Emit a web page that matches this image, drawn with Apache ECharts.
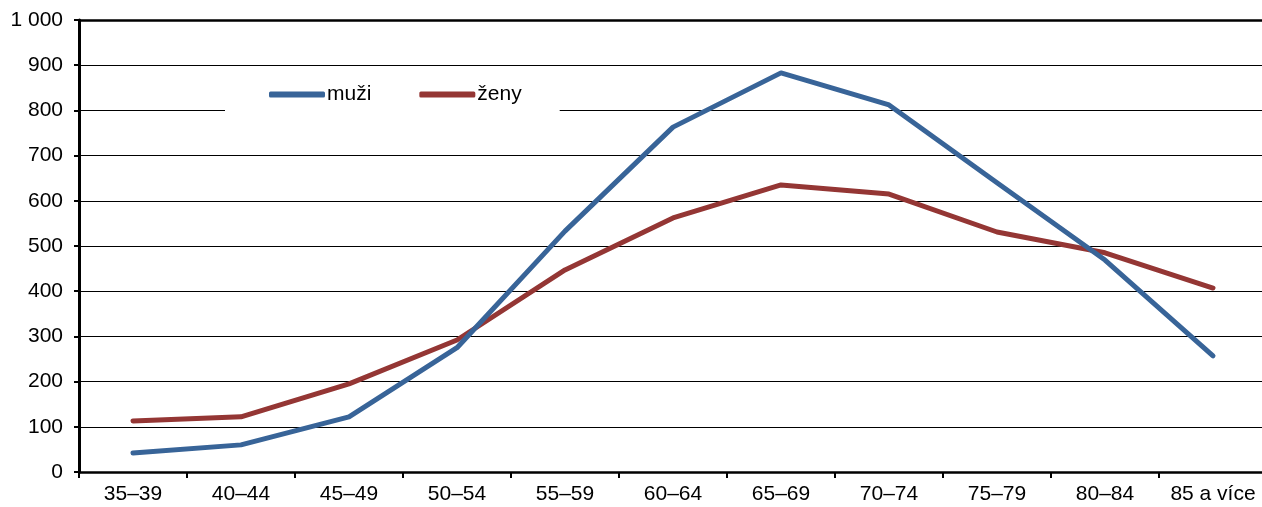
<!DOCTYPE html>
<html>
<head>
<meta charset="utf-8">
<script src="https://cdn.jsdelivr.net/npm/echarts@6/dist/echarts.min.js"></script>
<style>
  html, body { margin: 0; padding: 0; background: #fff; }
  #chart { width: 1262px; height: 507px; }
</style>
</head>
<body>
<div id="chart"></div>
<script>
// věkové skupiny
let categories = ['35–39', '40–44', '45–49', '50–54', '55–59', '60–64', '65–69', '70–74', '75–79', '80–84', '85 a více'];
let muzi = [42, 60, 122, 275, 533, 763, 883, 812, 640, 469, 257];
let zeny = [113, 122, 195, 292, 447, 562, 635, 615, 531, 485, 407];

let font = 'Liberation Sans, Arial, sans-serif';

let option = {
    animation: false,
    backgroundColor: '#fff',
    grid: {
        left: 79,
        width: 1188,
        top: 20,
        bottom: 35,
        outerBoundsMode: 'none'
    },
    legend: {
        left: 225,
        top: 76,
        backgroundColor: '#fff',
        padding: [8, 38, 8, 44],
        itemGap: 48,
        itemWidth: 56,
        itemHeight: 6,
        icon: 'roundRect',
        textStyle: { fontFamily: font, fontSize: 21, color: '#000', padding: [0, 0, 0, -3] },
        data: ['muži', 'ženy']
    },
    xAxis: [{
        type: 'category',
        data: categories,
        axisLine: { lineStyle: { color: '#000', width: 2.5 } },
        axisTick: { show: true, interval: 0, length: 6, lineStyle: { color: '#000', width: 2 } },
        axisLabel: { interval: 0, fontFamily: font, fontSize: 21, color: '#000', margin: 12 }
    }, {
        type: 'category',
        position: 'top',
        data: categories,
        axisLine: { lineStyle: { color: '#000', width: 2.5 } },
        axisTick: { show: false },
        axisLabel: { show: false }
    }],
    yAxis: {
        type: 'value',
        min: 0,
        max: 1000,
        interval: 100,
        axisLine: { show: true, lineStyle: { color: '#000', width: 3 } },
        axisTick: { show: true, length: 5, lineStyle: { color: '#000', width: 2 } },
        splitLine: { lineStyle: { color: '#000', width: 1 } },
        axisLabel: {
            fontFamily: font,
            fontSize: 21,
            color: '#000',
            margin: 16,
            formatter: v => v >= 1000 ? '1 000' : String(v)
        }
    },
    series: [{
        name: 'muži',
        type: 'line',
        data: muzi,
        symbol: 'none',
        color: '#386498',
        lineStyle: { width: 5, cap: 'round', join: 'round' },
        z: 3
    }, {
        name: 'ženy',
        type: 'line',
        data: zeny,
        symbol: 'none',
        color: '#943634',
        lineStyle: { width: 5, cap: 'round', join: 'round' },
        z: 2
    }]
};

let chartDom = document.getElementById('chart');
let myChart = echarts.init(chartDom);
myChart.setOption(option);
</script>
</body>
</html>
